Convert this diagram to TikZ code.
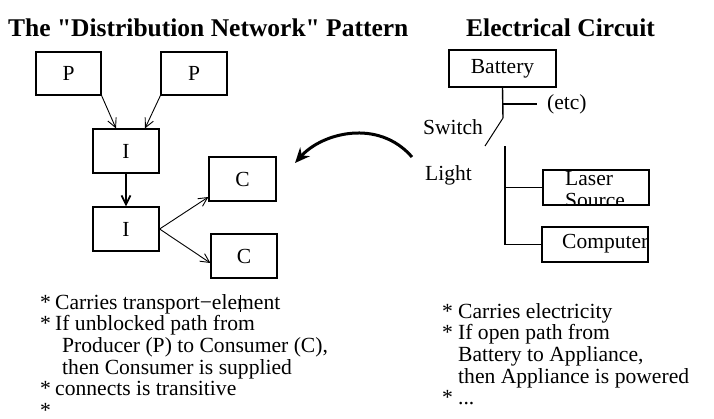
\documentclass[tikz,border=0pt]{standalone}
\usepackage{fontspec}
\setmainfont{Liberation Serif}
\usetikzlibrary{arrows.meta}

\begin{document}
\begin{tikzpicture}[x=1pt,y=-1pt,font=\fontsize{21.5}{22}\selectfont,
  box/.style={draw,line width=1.2pt,minimum width=66pt,minimum height=44pt,inner sep=0pt},
  flow/.style={line width=0.9pt,-{Straight Barb[length=9pt,width=9pt]}},
  wire/.style={line width=1.4pt},
  heading/.style={anchor=base west,inner sep=0pt,font=\fontsize{25.5}{28}\selectfont\bfseries},
  notes/.style={anchor=base west,align=left,inner sep=0pt,font=\fontsize{21.6}{21.7}\selectfont}]
  \useasboundingbox (0,0) rectangle (714,418);

  % the pattern
  \node[heading] (titleL) at (8,36) {The \textquotedbl Distribution Network\textquotedbl{} Pattern};
  \node[box,minimum width=65pt,minimum height=43pt] (p1) at (68.5,73.5) {P};
  \node[box,minimum height=43pt] (p2) at (194,73.5) {P};
  \node[box] (i1) at (126,151) {I};
  \node[box] (i2) at (126,229) {I};
  \node[box,minimum width=67pt] (c1) at (242.5,179) {C};
  \node[box] (c2) at (244,256) {C};
  \draw[flow] (p1.south east) -- ([xshift=-10pt]i1.north);
  \draw[flow] (p2.south west) -- ([xshift=19pt]i1.north);
  \draw[flow,line width=1.8pt] (i1) -- (i2);
  \draw[flow] (i2.east) -- ([yshift=-18pt]c1.west);
  \draw[flow] (i2.east) -- ([yshift=-7pt]c2.west);

  % the analogy
  \coordinate (from) at (412,157);
  \coordinate (to) at (295,163);
  \draw[line width=3pt,-{Stealth[length=15pt,width=13pt]}] (from) .. controls (378,118) and (322,133) .. (to);

  % the circuit
  \node[heading] (titleR) at (466,36) {Electrical Circuit};
  \node[box,minimum width=107pt,minimum height=37pt] (bat) at (502.5,68.5) {Battery};
  \node[box,minimum width=106pt,minimum height=35pt] (laser) at (596,187.5) {};
  \node[box,minimum width=106pt,minimum height=35pt] (comp) at (595,244.5) {};
  \begin{scope}
    \clip (laser.south west) rectangle (laser.north east);
    % base is the last line here
    \node[anchor=base west,align=left,inner sep=0pt] (laserTxt) at (565,207) {Laser\\Source};
  \end{scope}
  \begin{scope}
    \clip (comp.south west) rectangle (comp.north east);
    \node[anchor=base west,inner sep=0pt] (compTxt) at (562,248) {Computer};
  \end{scope}
  \node[anchor=west,inner sep=0pt] (etc) at (547,104) {(etc)};
  \node[anchor=east,inner sep=0pt] (switch) at (483,127) {Switch};
  \node[anchor=west,inner sep=0pt] (light) at (425,175) {Light};
  \coordinate (tap) at (503,104);
  \coordinate (swTop) at (503,118);
  \coordinate (swEnd) at (485,146);
  \coordinate (busTop) at (505,146);
  \coordinate (busLaser) at (505,187.5);
  \coordinate (busComp) at (505,244.5);
  \draw[wire] (bat.south) -- (swTop);
  \draw[wire] (tap) -- ([xshift=-10pt]etc.west);
  \draw[line width=1pt] (swTop) -- (swEnd);
  \draw[wire] (busTop) -- (busComp) -- (comp.west);
  \draw[wire] (busLaser) -- (laser.west);

  % the notes (placed by the baseline of their last line)
  \node[notes] (notesL) at (40,439.2) {\makebox[15pt][l]{*}Carries transport−element\\
    \makebox[15pt][l]{*}If unblocked path from\\
    \hspace*{22pt}Producer (P) to Consumer (C),\\
    \hspace*{22pt}then Consumer is supplied\\
    \makebox[15pt][l]{*}connects is transitive\\
    *\\
    \hspace*{17pt}...};
  \draw[line width=0.4pt] (240,295) -- (240,312);
  \node[notes] (notesR) at (442,404.8) {\makebox[16pt][l]{*}Carries electricity\\
    \makebox[16pt][l]{*}If open path from\\
    \hspace*{16pt}Battery to Appliance,\\
    \hspace*{16pt}then Appliance is powered\\
    \makebox[16pt][l]{*}...};
\end{tikzpicture}
\end{document}
